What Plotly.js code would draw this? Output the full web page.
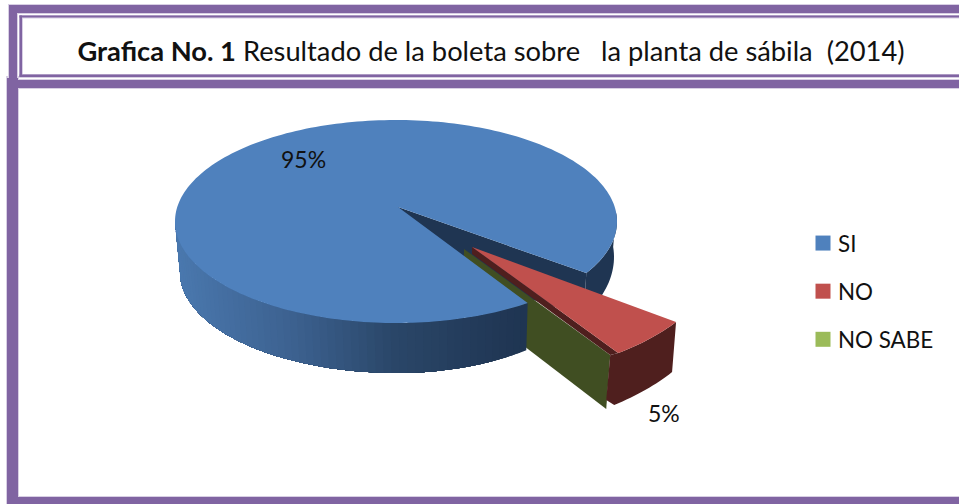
<!DOCTYPE html>
<html>
<head>
<meta charset="utf-8">
<script src="https://cdn.plot.ly/plotly-3.0.1.min.js"></script>
<style>html,body{margin:0;padding:0;background:#fff;overflow:hidden}#chart{width:959px;height:504px}</style>
</head>
<body>
<div id="chart"></div>
<script>
// ---- data ----
const categories = ['SI', 'NO', 'NO SABE'];
const shares = [95, 5, 0];
const titleBold = 'Grafica No. 1';
const titleRest = ' Resultado de la boleta sobre \u00a0 la planta de sábila \u00a0(2014)';

// ---- style ----
const topColors = ['#4f81bd', '#c0504d', '#9bbb59'];
const purple = '#8064a2', lilac = '#d8cfe4';
const FONT = 'Lato, "Open Sans", sans-serif';
const inkBlue = '#1f3552', inkRed = '#4f1f1e', inkGreen = '#404e22';

// ---- projected pie geometry (pixel-scaled axes) ----
const hub = {x: 398, y: 207};
const rim = {x: 396, y: 221.5, rx: 221, ry: 101.5};
const notchMid = 132, notchStretch = 1.27;
const NOmid = 134.5, NOstretch = 1.06;
const NOshift = {x: 74, y: 40}, NOradius = {x: 249, y: 131};
const cutShift = {x: -8, y: 2};
const rad = d => d * Math.PI / 180;
const halfAngle = s => s / 100 * 180;

const topRim = a => [rim.x + rim.rx * Math.sin(rad(a)), rim.y - rim.ry * Math.cos(rad(a))];
const baseRim = a => {
  const right = Math.sin(rad(a)) > 0;
  return [397 + 217 * Math.sin(rad(a)),
          (right ? 257 : 272) - (right ? 116 : 101) * Math.cos(rad(a))];
};
const range = (a, b, n) => Array.from({length: n + 1}, (_, i) => a + (b - a) * i / n);

const traces = [];
function poly(pts, color) {
  traces.push({
    type: 'scatter', mode: 'lines', x: pts.map(p => p[0]), y: pts.map(p => p[1]),
    fill: 'toself', fillcolor: color,
    line: {color: color, width: 0, simplify: false},
    hoverinfo: 'skip', showlegend: false
  });
}

const notchHalf = halfAngle(shares[1]) * notchStretch;
const notchA = notchMid - notchHalf, notchB = notchMid + notchHalf;
const NOhalf = halfAngle(shares[1]) * NOstretch;
const NOa = NOmid - NOhalf, NOb = NOmid + NOhalf;

// slice cut faces and walls, back to front
poly([[hub.x, hub.y], topRim(notchA), baseRim(notchA), [hub.x, hub.y + 50]], inkBlue);
poly([...range(85, notchA, 24).map(topRim), ...range(notchA, 85, 24).map(baseRim)], inkBlue);

const apexNO = {x: hub.x + NOshift.x, y: hub.y + NOshift.y};
const rimNO = a => [apexNO.x + NOradius.x * Math.sin(rad(a)), apexNO.y - NOradius.y * Math.cos(rad(a))];
const apexCut = {x: apexNO.x + cutShift.x, y: apexNO.y + cutShift.y};
const rimCut = [rimNO(NOb)[0] + cutShift.x, rimNO(NOb)[1] + cutShift.y];

poly([[apexCut.x, apexCut.y], rimCut, [rimCut[0] - 4, rimCut[1] + 54], [apexCut.x, apexCut.y + 51]], inkGreen);

// gradient on SI's front wall: overlapping bands painted from the dark end to the light end
const stops = [[182, [74, 120, 174]], [300, [60, 97, 143]], [400, [42, 70, 104]], [524, [31, 53, 82]]];
function wallColor(x) {
  let i = 0;
  while (i < stops.length - 2 && x > stops[i + 1][0]) i++;
  const [x0, c0] = stops[i], [x1, c1] = stops[i + 1];
  const t = Math.min(1, Math.max(0, (x - x0) / (x1 - x0)));
  return 'rgb(' + c0.map((c, k) => Math.round(c + (c1[k] - c) * t)).join(',') + ')';
}
const wallSteps = range(notchB, 270, 60);
const wallArc = range(notchB, 270, 120);
wallSteps.slice(0, -1).forEach(a => {
  const arc = wallArc.filter(b => b >= a - 1e-6);
  poly([...arc.map(topRim), ...arc.slice().reverse().map(baseRim)], wallColor(baseRim(a)[0]));
});

// SI top face
poly([[hub.x, hub.y], ...range(notchB, notchA + 360, 240).map(topRim)], topColors[0]);

// NO slice
poly([[apexNO.x, apexNO.y], rimNO(NOb), rimCut, [apexNO.x, apexCut.y + 5]], inkRed);
const arcNO = range(NOa, NOb, 16);
poly([...arcNO.map(rimNO), rimCut, [rimCut[0] - 4, rimCut[1] + 45],
      ...arcNO.slice().reverse().map(a => { const p = rimNO(a); return [p[0] - 4, p[1] + 50 + (a - NOa) * 0.1]; })], inkRed);
poly([[apexNO.x, apexNO.y], ...arcNO.map(rimNO)], topColors[1]);

// legend entries
categories.forEach((name, i) => {
  traces.push({
    type: 'scatter', mode: 'markers', x: [null], y: [null], name: name, legendgroup: name,
    marker: {symbol: 'square', size: 15, color: topColors[i]}, hoverinfo: 'skip', showlegend: true
  });
});

// percentage labels
const labelAngles = [notchB + halfAngle(shares[0]), NOmid];
const labelBase = [topRim(labelAngles[0]), rimNO(labelAngles[1])];
const labelNudge = [[303 - labelBase[0][0], 159 - labelBase[0][1]], [664 - labelBase[1][0], 413 - labelBase[1][1]]];
const annotations = [0, 1].map(i => ({
  xref: 'x', yref: 'y', x: labelBase[i][0] + labelNudge[i][0], y: labelBase[i][1] + labelNudge[i][1],
  text: shares[i] + '%', showarrow: false, xanchor: 'center', yanchor: 'middle',
  font: {family: FONT, size: 23, color: '#111'}
}));

// frame
const box = (x0, y0, x1, y1, c) => ({type: 'rect', xref: 'x', yref: 'y', x0, y0, x1, y1,
  fillcolor: c, line: {width: 0}, layer: 'below'});
const shapes = [
  box(8, 4, 959, 14, lilac), box(8, 4, 18, 80, lilac),
  box(6, 76, 19, 504, lilac), box(18, 79, 959, 89, lilac), box(18, 496, 959, 504, lilac),
  box(9, 5, 959, 13, purple), box(9, 5, 17, 80, purple),
  box(7, 78, 18, 504, purple), box(7, 80, 959, 88, purple), box(7, 497, 959, 504, purple),
  box(19, 15, 959, 18.5, lilac), box(19, 74, 959, 78, lilac), box(19, 15, 23, 78, lilac),
  box(19.5, 15.5, 959, 17.5, purple), box(19.5, 74.5, 959, 77, purple), box(19.5, 15.5, 22, 77, purple)
];

const layout = {
  width: 959, height: 504, margin: {l: 0, r: 0, t: 0, b: 0},
  paper_bgcolor: '#fff', plot_bgcolor: '#fff',
  title: {
    text: '<b>' + titleBold + '</b>' + titleRest,
    x: 491 / 959, xanchor: 'center', y: 1 - 51 / 504, yanchor: 'middle',
    font: {family: FONT, size: 27.3, color: '#111'}
  },
  xaxis: {range: [0, 959], visible: false, fixedrange: true},
  yaxis: {range: [504, 0], visible: false, fixedrange: true},
  showlegend: true,
  legend: {
    x: 798 / 959, xanchor: 'left', y: 1 - 222 / 504, yanchor: 'top',
    bgcolor: 'rgba(0,0,0,0)', borderwidth: 0, tracegroupgap: 16,
    traceorder: 'grouped', itemclick: false, itemdoubleclick: false,
    font: {family: FONT, size: 22.4, color: '#111'}
  },
  shapes, annotations
};

Plotly.newPlot('chart', traces, layout, {displayModeBar: false, staticPlot: true}).then(gd => {
  // the reference keeps its legend squares closer to the text
  gd.querySelectorAll('.legend .legendsymbols').forEach(g => g.setAttribute('transform', 'translate(5,0)'));
});
</script>
</body>
</html>
